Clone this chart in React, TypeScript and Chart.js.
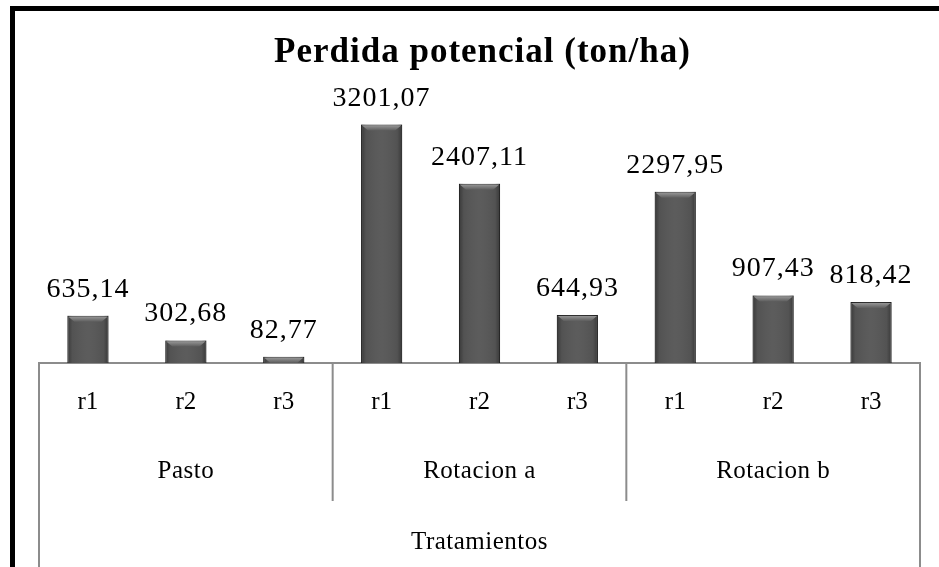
import React, { useEffect, useRef } from 'react';
import { Chart, registerables } from 'chart.js';

Chart.register(...registerables);

const titleText = 'Perdida potencial (ton/ha)';
const axisTitle = 'Tratamientos';
const groups = ['Pasto', 'Rotacion a', 'Rotacion b'];
const subLabels = ['r1', 'r2', 'r3', 'r1', 'r2', 'r3', 'r1', 'r2', 'r3'];
const values = [635.14, 302.68, 82.77, 3201.07, 2407.11, 644.93, 2297.95, 907.43, 818.42];
const yMin = 0;
const yMax = 4000;

const SERIF = '"Liberation Serif", "Times New Roman", serif';
const fmt = (v: number) => v.toFixed(2).replace('.', ',');

const decor = {
  id: 'decor',
  beforeDraw(chart: any) {
    const { ctx, width, height } = chart;
    ctx.save();
    ctx.fillStyle = '#fff';
    ctx.fillRect(0, 0, width, height);
    ctx.restore();
  },
  afterDatasetsDraw(chart: any) {
    const { ctx } = chart;
    const meta = chart.getDatasetMeta(0);
    ctx.save();
    meta.data.forEach((bar: any, i: number) => {
      const { x, y, base, width } = bar.getProps(['x', 'y', 'base', 'width'], true);
      if (![x, y, base, width].every(Number.isFinite)) return;
      const l = x - width / 2;
      const r = x + width / 2;
      const h = base - y;
      // side shading
      const sg = ctx.createLinearGradient(l, 0, r, 0);
      sg.addColorStop(0, 'rgba(0,0,0,0.35)');
      sg.addColorStop(0.12, 'rgba(0,0,0,0.05)');
      sg.addColorStop(0.5, 'rgba(255,255,255,0.03)');
      sg.addColorStop(0.88, 'rgba(0,0,0,0.05)');
      sg.addColorStop(1, 'rgba(0,0,0,0.35)');
      ctx.fillStyle = sg;
      ctx.fillRect(l, y, width, h);
      // top bevel
      const bev = Math.min(6, h);
      const g = ctx.createLinearGradient(0, y, 0, y + bev);
      g.addColorStop(0, '#a0a0a0');
      g.addColorStop(1, '#5e5e5e');
      ctx.fillStyle = g;
      ctx.beginPath();
      ctx.moveTo(l + 1, y + 1);
      ctx.lineTo(r - 1, y + 1);
      ctx.lineTo(r - 1 - bev, y + bev);
      ctx.lineTo(l + 1 + bev, y + bev);
      ctx.closePath();
      ctx.fill();
      // value label
      ctx.fillStyle = '#000';
      ctx.font = `28px ${SERIF}`;
      (ctx as any).letterSpacing = '1px';
      ctx.textAlign = 'center';
      ctx.textBaseline = 'alphabetic';
      ctx.fillText(fmt(values[i]), x, y - 19);
    });
    ctx.restore();
  },
  afterDraw(chart: any) {
    const { ctx, chartArea, width, height } = chart;
    const xs = chart.scales.x;
    const n = subLabels.length;
    const step = xs.getPixelForValue(1) - xs.getPixelForValue(0);
    const top = chartArea.bottom;
    ctx.save();
    ctx.strokeStyle = '#8c8c8c';
    ctx.lineWidth = 2;
    const left = xs.getPixelForValue(0) - step / 2;
    const right = xs.getPixelForValue(n - 1) + step / 2;
    ctx.beginPath();
    ctx.moveTo(left, top);
    ctx.lineTo(left, height);
    ctx.moveTo(right, top);
    ctx.lineTo(right, height);
    for (let gi = 1; gi < groups.length; gi++) {
      const bx = xs.getPixelForValue(gi * 3) - step / 2;
      ctx.moveTo(bx, top);
      ctx.lineTo(bx, top + 138);
    }
    ctx.stroke();

    ctx.fillStyle = '#000';
    ctx.font = `25px ${SERIF}`;
    ctx.textAlign = 'center';
    ctx.textBaseline = 'alphabetic';
    (ctx as any).letterSpacing = '0.5px';
    groups.forEach((gname, gi) => {
      const cx = xs.getPixelForValue(gi * 3 + 1);
      ctx.fillText(gname, cx, top + 115);
    });
    ctx.fillText(axisTitle, (left + right) / 2, top + 186);

    ctx.font = `bold 35px ${SERIF}`;
    (ctx as any).letterSpacing = '1px';
    ctx.fillText(titleText, (left + right) / 2 + 3, 62);

    // outer frame (top and left)
    (ctx as any).letterSpacing = '0px';
    ctx.fillStyle = '#000';
    ctx.fillRect(10, 6, width - 10, 5);
    ctx.fillRect(10, 6, 5, height - 6);
    ctx.restore();
  },
};

export default function App() {
  const ref = useRef<HTMLCanvasElement | null>(null);
  useEffect(() => {
    if (!ref.current) return;
    const chart = new Chart(ref.current, {
      type: 'bar',
      data: {
        labels: subLabels,
        datasets: [
          {
            data: values,
            backgroundColor: '#575757',
            borderColor: '#2c2c2c',
            borderWidth: 1,
            barPercentage: 0.42,
            categoryPercentage: 1,
          },
        ],
      },
      options: {
        responsive: false,
        animation: false,
        layout: { padding: { left: 39, right: 19, top: 65, bottom: 0 } },
        plugins: {
          legend: { display: false },
          title: { display: false },
          tooltip: { enabled: false },
        },
        scales: {
          x: {
            type: 'category',
            grid: { display: false, drawTicks: false },
            border: { display: true, color: '#8c8c8c', width: 2 },
            ticks: {
              color: '#000',
              font: { family: SERIF, size: 25 },
              padding: 24,
              maxRotation: 0,
              autoSkip: false,
            },
            afterFit: (s: any) => {
              s.height = 204;
            },
          },
          y: {
            display: false,
            min: yMin,
            max: yMax,
          },
        },
      },
      plugins: [decor],
    });
    return () => chart.destroy();
  }, []);
  return (
    <div style={{ position: 'fixed', left: 0, top: 0, width: 939, height: 567 }}>
      <canvas ref={ref} width={939} height={567} style={{ display: 'block' }} />
    </div>
  );
}
